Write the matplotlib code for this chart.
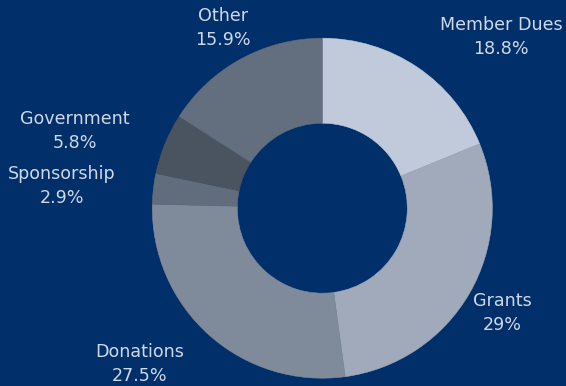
import matplotlib
matplotlib.use("Agg")
import matplotlib.pyplot as plt

# revenue sources
categories = ["Member Dues", "Grants", "Donations", "Sponsorship", "Government", "Other"]
shares = [18.8, 29, 27.5, 2.9, 5.8, 15.9]
share_labels = ["18.8%", "29%", "27.5%", "2.9%", "5.8%", "15.9%"]

colors = ["#c0cadb", "#a0aaba", "#7f8a9b", "#616c7c", "#4a5461", "#636e7e"]
bg = "#002f6a"
txt = "#cfd8e6"

# label centres in pixel coordinates (x, y from top)
label_pos = [(501, 37), (502, 313), (140, 364), (62, 186), (75, 131), (223, 28)]

W, H = 566, 386
fig = plt.figure(figsize=(W / 100, H / 100), dpi=100, facecolor=bg)
ax = fig.add_axes([0, 0, 1, 1])
ax.set_facecolor(bg)

cx, cy, r = 322.3, H - 208.2, 170
wedges, _ = ax.pie(shares, colors=colors, startangle=90, counterclock=False,
                   center=(cx, cy), radius=r, frame=True,
                   wedgeprops=dict(width=r * 0.5, linewidth=0))
for w, c in zip(wedges, colors):
    w.set_edgecolor(c)
    w.set_linewidth(0.4)

ax.set_xlim(0, W)
ax.set_ylim(0, H)
ax.set_aspect("equal")
ax.axis("off")

for name, lab, (x, y) in zip(categories, share_labels, label_pos):
    ax.text(x, H - y, name + "\n" + lab, ha="center", va="center",
            color=txt, fontsize=12.6, linespacing=1.45, family="DejaVu Sans")

fig.savefig("out.png", dpi=100, facecolor=bg)
